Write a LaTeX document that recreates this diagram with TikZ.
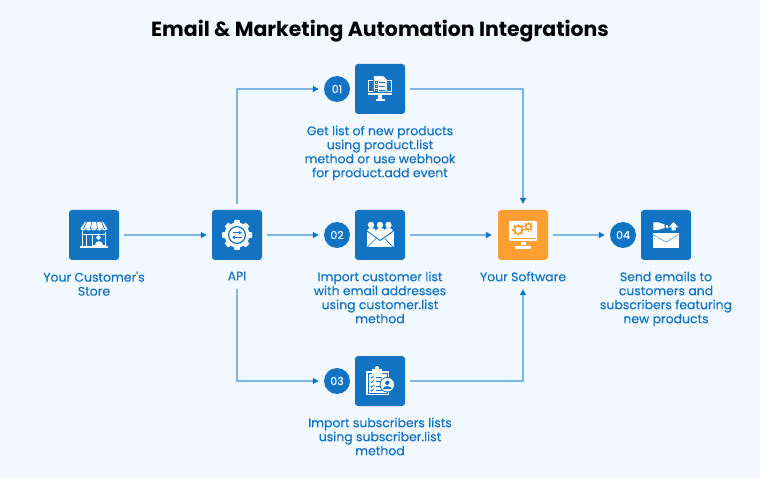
\documentclass[tikz,border=0pt]{standalone}
\usepackage{fontspec}
\setmainfont{Poppins}
\newfontfamily\labfont{Poppins}[FakeBold=0.3]
\usetikzlibrary{arrows.meta,calc}
\definecolor{bg}{HTML}{F1F8FF}
\definecolor{mainblue}{HTML}{1273C2}
\definecolor{lineblue}{HTML}{7DB6E6}
\definecolor{orangebox}{HTML}{FF9F33}
\tikzset{
  iconbox/.style={draw=none,fill=mainblue,rounded corners=3pt,minimum size=50pt,inner sep=0pt},
  orangeicon/.style={iconbox,fill=orangebox},
  numdot/.style={circle,fill=mainblue,minimum size=26pt,inner sep=0pt,text=white,font=\labfont\fontsize{11}{11}\selectfont},
  lab/.style={align=center,inner sep=0pt,anchor=north,text=mainblue,font=\labfont\fontsize{12.45}{14}\selectfont},
  conn/.style={draw=lineblue,line width=1.4pt,-{Triangle[length=6pt,width=6pt,color=mainblue]}},
}
\begin{document}
\begin{tikzpicture}[x=1pt,y=-1pt]
\fill[bg] (0,0) rectangle (760,478);
\useasboundingbox (0,0) rectangle (760,478);
\node[inner sep=0pt,font=\fontsize{20.45}{24}\selectfont\bfseries] (title) at (380,31.5) {Email \& Marketing Automation Integrations};
\node[iconbox] (store) at (94,235) {};
\node[iconbox] (api) at (237,235) {};
\node[iconbox] (b1) at (380,89) {};
\node[iconbox] (b2) at (380,235) {};
\node[iconbox] (b3) at (380,381) {};
\node[orangeicon] (sw) at (523,235) {};
\node[iconbox] (b4) at (666,235) {};
\node[numdot] (c1) at (337,89) {01};
\node[numdot] (c2) at (337,235) {02};
\node[numdot] (c3) at (337,381) {03};
\node[numdot] (c4) at (623,235) {04};
\node[lab] (t0) at (94,271.5) {Your Customer's\\Store};
\node[lab] (ta) at (237,271.5) {API};
\node[lab] (t1) at (380,125.5) {Get list of new products\\using product.list\\method or use webhook\\for product.add event};
\node[lab] (t2) at (380,271.5) {Import customer list\\with email addresses\\using customer.list\\method};
\node[lab] (t3) at (380,417.5) {Import subscribers lists\\using subscriber.list\\method};
\node[lab] (ts) at (523,271.5) {Your Software};
\node[lab] (t4) at (666,271.5) {Send emails to\\customers and\\subscribers featuring\\new products};
% connectors
\draw[conn,shorten <=5pt,shorten >=5pt] (store) -- (api);
\draw[conn,shorten <=5pt,shorten >=5pt] (api) -- (c2);
\draw[conn,shorten <=6pt,shorten >=5pt] (api.north) |- (c1.west);
\draw[conn,shorten <=29pt,shorten >=5pt] (api.south) |- (c3.west);
\draw[conn,shorten <=5pt,shorten >=6pt] (b1.east) -| (sw.north);
\draw[conn,shorten <=5pt,shorten >=6pt] (b2.east) -- (sw.west);
\draw[conn,shorten <=5pt,shorten >=29pt] (b3.east) -| (sw.south);
\draw[conn,shorten <=5pt,shorten >=5pt] (sw) -- (c4);
% store icon
\begin{scope}[shift={(store.center)}]
\fill[white] (-9,-13) -- (9,-13) -- (13.5,-6.5) -- (-13.5,-6.5) -- cycle;
\foreach \a in {-13.5,-8,-2.7,2.7,8}{\fill[white] (\a,-6.7) -- ++(5.4,0) arc (0:-180:2.7pt and 2.2pt) -- cycle;}
\foreach \a/\b in {-7.5/-10.5,-2.5/-3.5,2.5/3.5,7.5/10.5}{\draw[mainblue,line width=.7pt] (\a,-13) -- (\b,-6.2);}
\draw[white,line width=.9pt] (-11.5,-4) -- (-11.5,11.5) (11.5,-3) -- (11.5,11.5);
\draw[white,line width=.9pt] (-1.7,-1) rectangle (11,10);
\draw[white,line width=.9pt] (-8,-1) -- (-8,11);
\draw[white,line width=.9pt] (-11.5,-1) -- (-1.7,-1);
\fill[white] (4.5,2.5) circle (2.2pt);
\fill[white] (.5,10) .. controls (.5,5.5) and (8.5,5.5) .. (8.5,10) -- cycle;
\fill[white] (-14,11.5) rectangle (14,13.5);
\end{scope}
% gear
\begin{scope}[shift={(api.center)}]
\foreach \a in {0,45,...,315}{\fill[white,rotate=\a] (-3.4,-11) -- (-2.5,-15) -- (2.5,-15) -- (3.4,-11) -- cycle;}
\fill[white] (0,0) circle (12.5pt);
\draw[mainblue,line width=1.2pt] (0,0) circle (8.4pt);
\draw[mainblue,line width=.8pt,-{Stealth[length=3.2pt,width=4pt]}] (-4.5,-2.4) -- (4.8,-2.4);
\draw[mainblue,line width=.8pt,-{Stealth[length=3.2pt,width=4pt]}] (4.5,2.4) -- (-4.8,2.4);
\end{scope}
% icon 01
\begin{scope}[shift={(b1.center)}]
\fill[white] (-12,-9) rectangle (-7,3);
\fill[white] (7,-9) rectangle (12,3);
\fill[mainblue] (-10.8,-7.8) rectangle (-7,1.8);
\fill[mainblue] (7,-7.8) rectangle (10.8,1.8);
\fill[white] (-12,4) rectangle (12,6.2);
\fill[white] (-1.8,6.2) rectangle (1.8,10.5);
\fill[white] (-4.5,10.5) rectangle (4.5,12.2);
\draw[mainblue,line width=.5pt,fill=white] (-6.5,-13) -- (3.5,-13) -- (7,-9.5) -- (7,3) -- (-6.5,3) -- cycle;
\foreach \yy in {-8,-3.5,0.5}{
  \draw[mainblue,line width=.5pt] (-4.5,\yy) rectangle (-2.5,\yy+2);
  \draw[mainblue,line width=.6pt] (-1,\yy+1) -- (5,\yy+1);
}
\end{scope}
% icon 02
\begin{scope}[shift={(b2.center)}]
\foreach \a in {-9,0,8.5}{
  \fill[white] (\a,-10) circle (3.2pt);
  \fill[white] (\a-4.5,-3.5) .. controls (\a-4.5,-8) and (\a+4.5,-8) .. (\a+4.5,-3.5) -- cycle;
}
\fill[white] (-13,-4) rectangle (13.5,12.5);
\draw[mainblue,line width=.9pt] (-13,-4) -- (0.2,5.5) -- (13.5,-4);
\draw[mainblue,line width=.7pt] (-13,12.5) -- (-4,3.5) (13.5,12.5) -- (4.5,3.5);
\end{scope}
% icon 03
\begin{scope}[shift={(b3.center)}]
\draw[white,line width=1.2pt] (-13,-9) rectangle (8.5,13.5);
\fill[white] (-11.2,-7.5) rectangle (6.8,12);
\fill[white] (-8,-12) rectangle (2,-7);
\fill[white] (-3,-13) circle (2pt);
\foreach \yy in {-4,0.5,5,9}{
  \draw[mainblue,line width=.7pt] (-9.5,\yy) -- (-8.2,\yy+1.1) -- (-6.4,\yy-1.2);
  \draw[mainblue,line width=.8pt] (-4.5,\yy) -- (2,\yy);
}
\fill[mainblue] (7.3,3.7) circle (7.8pt);
\fill[white] (7.3,3.7) circle (6.8pt);
\fill[mainblue] (7.3,1.8) circle (2.2pt);
\fill[mainblue] (2.8,8.2) .. controls (3,4) and (11.6,4) .. (11.8,8.2) -- cycle;
\end{scope}
% software
\begin{scope}[shift={(sw.center)}]
\fill[white,rounded corners=1pt] (-14,-14) rectangle (14.2,6);
\fill[orangebox] (-12.5,3) rectangle (12.7,3.6);
\foreach \cx/\cy/\r in {-4.7/-5.2/5.6,5.3/-8.3/4.4}{
  \foreach \a in {0,45,...,315}{\draw[orangebox,line width=1.6pt,shift={(\cx,\cy)},rotate=\a] (0,-\r+.8) -- (0,-\r-.5);}
  \draw[orangebox,line width=1.8pt] (\cx,\cy) circle ({\r-1.5});
}
\fill[white] (-2.5,7) rectangle (2.5,10.5);
\fill[white,rounded corners=1pt] (-8,11) rectangle (8,14);
\end{scope}
% icon 04
\begin{scope}[shift={(b4.center)}]
\fill[white] (-13.3,-2) rectangle (13.3,13);
\draw[lineblue,line width=.9pt] (-13.3,-.5) -- (0,7) -- (13.3,-.5);
\fill[white] (-12.7,-12.7) -- (-8,-12.7) -- (-1.5,-10.5) -- (-1.5,-7) -- (-8,-5) -- (-12.7,-5) -- cycle;
\fill[white] (0,-10) rectangle (2,-7);
\fill[white] (7.5,-13) -- (12.5,-7.5) -- (9.5,-7.5) -- (9.5,-4.5) -- (5.5,-4.5) -- (5.5,-7.5) -- (2.5,-7.5) -- cycle;
\end{scope}
\end{tikzpicture}
\end{document}
